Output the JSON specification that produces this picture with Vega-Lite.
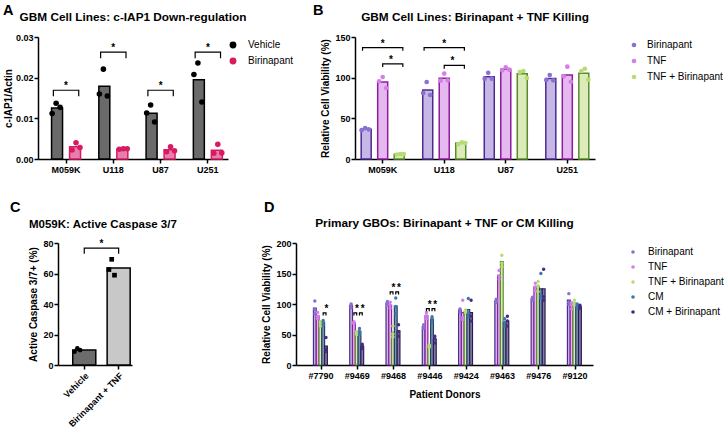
{
"$schema": "https://vega.github.io/schema/vega-lite/v6.json",
"padding": {"left": 3, "top": 2, "right": 0, "bottom": 0},
"background": "white",
"config": {
  "font": "Liberation Sans",
  "view": {"stroke": null},
  "axis": {"domainColor": "#000", "domainWidth": 1.5, "tickColor": "#000", "tickWidth": 1.5, "tickSize": 4, "labelColor": "#000", "labelFontWeight": "bold", "labelFontSize": 9, "labelPadding": 2, "titleFontWeight": "bold", "titleFontSize": 10, "titleColor": "#000", "titlePadding": 4, "grid": false, "labelOverlap": false},
  "title": {"fontWeight": "bold", "fontSize": 11.8, "color": "#000", "offset": 9},
  "legend": {"labelFontSize": 10, "labelColor": "#000", "symbolStrokeWidth": 0, "symbolType": "circle"}
},
"datasets": {
  "a": [
    {"line": "M059K", "cond": "Vehicle", "pk": "Vehicle-1", "v": 0.0112},
    {"line": "M059K", "cond": "Vehicle", "pk": "Vehicle-2", "v": 0.0137},
    {"line": "M059K", "cond": "Vehicle", "pk": "Vehicle-3", "v": 0.0127},
    {"line": "M059K", "cond": "Birinapant", "pk": "Birinapant-1", "v": 0.0022},
    {"line": "M059K", "cond": "Birinapant", "pk": "Birinapant-2", "v": 0.0040},
    {"line": "M059K", "cond": "Birinapant", "pk": "Birinapant-3", "v": 0.0028},
    {"line": "U118", "cond": "Vehicle", "pk": "Vehicle-1", "v": 0.0160},
    {"line": "U118", "cond": "Vehicle", "pk": "Vehicle-2", "v": 0.0221},
    {"line": "U118", "cond": "Vehicle", "pk": "Vehicle-3", "v": 0.0155},
    {"line": "U118", "cond": "Birinapant", "pk": "Birinapant-1", "v": 0.0024},
    {"line": "U118", "cond": "Birinapant", "pk": "Birinapant-2", "v": 0.0025},
    {"line": "U118", "cond": "Birinapant", "pk": "Birinapant-3", "v": 0.0025},
    {"line": "U87", "cond": "Vehicle", "pk": "Vehicle-1", "v": 0.0113},
    {"line": "U87", "cond": "Vehicle", "pk": "Vehicle-2", "v": 0.0133},
    {"line": "U87", "cond": "Vehicle", "pk": "Vehicle-3", "v": 0.0091},
    {"line": "U87", "cond": "Birinapant", "pk": "Birinapant-1", "v": 0.0018},
    {"line": "U87", "cond": "Birinapant", "pk": "Birinapant-2", "v": 0.0030},
    {"line": "U87", "cond": "Birinapant", "pk": "Birinapant-3", "v": 0.0020},
    {"line": "U251", "cond": "Vehicle", "pk": "Vehicle-1", "v": 0.0208},
    {"line": "U251", "cond": "Vehicle", "pk": "Vehicle-2", "v": 0.0236},
    {"line": "U251", "cond": "Vehicle", "pk": "Vehicle-3", "v": 0.0140},
    {"line": "U251", "cond": "Birinapant", "pk": "Birinapant-1", "v": 0.0014},
    {"line": "U251", "cond": "Birinapant", "pk": "Birinapant-2", "v": 0.0036},
    {"line": "U251", "cond": "Birinapant", "pk": "Birinapant-3", "v": 0.0015}
  ],
  "asig": [
    {"line": "M059K", "cond": "Vehicle", "y": 0.0154, "o": 1},
    {"line": "M059K", "cond": "Vehicle", "y": 0.0169, "o": 2},
    {"line": "M059K", "cond": "Birinapant", "y": 0.0169, "o": 3},
    {"line": "M059K", "cond": "Birinapant", "y": 0.0154, "o": 4},
    {"line": "U118", "cond": "Vehicle", "y": 0.0248, "o": 1},
    {"line": "U118", "cond": "Vehicle", "y": 0.0263, "o": 2},
    {"line": "U118", "cond": "Birinapant", "y": 0.0263, "o": 3},
    {"line": "U118", "cond": "Birinapant", "y": 0.0248, "o": 4},
    {"line": "U87", "cond": "Vehicle", "y": 0.0154, "o": 1},
    {"line": "U87", "cond": "Vehicle", "y": 0.0169, "o": 2},
    {"line": "U87", "cond": "Birinapant", "y": 0.0169, "o": 3},
    {"line": "U87", "cond": "Birinapant", "y": 0.0154, "o": 4},
    {"line": "U251", "cond": "Vehicle", "y": 0.0248, "o": 1},
    {"line": "U251", "cond": "Vehicle", "y": 0.0263, "o": 2},
    {"line": "U251", "cond": "Birinapant", "y": 0.0263, "o": 3},
    {"line": "U251", "cond": "Birinapant", "y": 0.0248, "o": 4}
  ],
  "astar": [
    {"line": "M059K", "y": 0.0169},
    {"line": "U118", "y": 0.0263},
    {"line": "U87", "y": 0.0169},
    {"line": "U251", "y": 0.0263}
  ],
  "b": [
    {"line": "M059K", "cond": "Birinapant", "pk": "Birinapant-1", "v": 35.5},
    {"line": "M059K", "cond": "Birinapant", "pk": "Birinapant-2", "v": 38},
    {"line": "M059K", "cond": "Birinapant", "pk": "Birinapant-3", "v": 36.5},
    {"line": "M059K", "cond": "TNF", "pk": "TNF-1", "v": 95.5},
    {"line": "M059K", "cond": "TNF", "pk": "TNF-2", "v": 100.8},
    {"line": "M059K", "cond": "TNF", "pk": "TNF-3", "v": 87.3},
    {"line": "M059K", "cond": "TNF + Birinapant", "pk": "TNF + Birinapant-1", "v": 5.5},
    {"line": "M059K", "cond": "TNF + Birinapant", "pk": "TNF + Birinapant-2", "v": 6},
    {"line": "M059K", "cond": "TNF + Birinapant", "pk": "TNF + Birinapant-3", "v": 6},
    {"line": "U118", "cond": "Birinapant", "pk": "Birinapant-1", "v": 81},
    {"line": "U118", "cond": "Birinapant", "pk": "Birinapant-2", "v": 94.7},
    {"line": "U118", "cond": "Birinapant", "pk": "Birinapant-3", "v": 78.7},
    {"line": "U118", "cond": "TNF", "pk": "TNF-1", "v": 96.3},
    {"line": "U118", "cond": "TNF", "pk": "TNF-2", "v": 105},
    {"line": "U118", "cond": "TNF", "pk": "TNF-3", "v": 96.7},
    {"line": "U118", "cond": "TNF + Birinapant", "pk": "TNF + Birinapant-1", "v": 18.4},
    {"line": "U118", "cond": "TNF + Birinapant", "pk": "TNF + Birinapant-2", "v": 20.5},
    {"line": "U118", "cond": "TNF + Birinapant", "pk": "TNF + Birinapant-3", "v": 19.7},
    {"line": "U87", "cond": "Birinapant", "pk": "Birinapant-1", "v": 98.8},
    {"line": "U87", "cond": "Birinapant", "pk": "Birinapant-2", "v": 106},
    {"line": "U87", "cond": "Birinapant", "pk": "Birinapant-3", "v": 98.8},
    {"line": "U87", "cond": "TNF", "pk": "TNF-1", "v": 109},
    {"line": "U87", "cond": "TNF", "pk": "TNF-2", "v": 112.7},
    {"line": "U87", "cond": "TNF", "pk": "TNF-3", "v": 109.8},
    {"line": "U87", "cond": "TNF + Birinapant", "pk": "TNF + Birinapant-1", "v": 107},
    {"line": "U87", "cond": "TNF + Birinapant", "pk": "TNF + Birinapant-2", "v": 108.2},
    {"line": "U87", "cond": "TNF + Birinapant", "pk": "TNF + Birinapant-3", "v": 99.6},
    {"line": "U251", "cond": "Birinapant", "pk": "Birinapant-1", "v": 97.1},
    {"line": "U251", "cond": "Birinapant", "pk": "Birinapant-2", "v": 103.3},
    {"line": "U251", "cond": "Birinapant", "pk": "Birinapant-3", "v": 96.7},
    {"line": "U251", "cond": "TNF", "pk": "TNF-1", "v": 101.6},
    {"line": "U251", "cond": "TNF", "pk": "TNF-2", "v": 113.5},
    {"line": "U251", "cond": "TNF", "pk": "TNF-3", "v": 95},
    {"line": "U251", "cond": "TNF + Birinapant", "pk": "TNF + Birinapant-1", "v": 108.2},
    {"line": "U251", "cond": "TNF + Birinapant", "pk": "TNF + Birinapant-2", "v": 111},
    {"line": "U251", "cond": "TNF + Birinapant", "pk": "TNF + Birinapant-3", "v": 97.5}
  ],
  "bsig": [
    {"line": "M059K", "bid": "M059K-long", "cond": "Birinapant", "y": 133, "o": 1},
    {"line": "M059K", "bid": "M059K-long", "cond": "Birinapant", "y": 137, "o": 2},
    {"line": "M059K", "bid": "M059K-long", "cond": "TNF + Birinapant", "y": 137, "o": 3},
    {"line": "M059K", "bid": "M059K-long", "cond": "TNF + Birinapant", "y": 133, "o": 4},
    {"line": "M059K", "bid": "M059K-short", "cond": "TNF", "y": 113, "o": 1},
    {"line": "M059K", "bid": "M059K-short", "cond": "TNF", "y": 117, "o": 2},
    {"line": "M059K", "bid": "M059K-short", "cond": "TNF + Birinapant", "y": 117, "o": 3},
    {"line": "M059K", "bid": "M059K-short", "cond": "TNF + Birinapant", "y": 113, "o": 4},
    {"line": "U118", "bid": "U118-long", "cond": "Birinapant", "y": 133, "o": 1},
    {"line": "U118", "bid": "U118-long", "cond": "Birinapant", "y": 137, "o": 2},
    {"line": "U118", "bid": "U118-long", "cond": "TNF + Birinapant", "y": 137, "o": 3},
    {"line": "U118", "bid": "U118-long", "cond": "TNF + Birinapant", "y": 133, "o": 4},
    {"line": "U118", "bid": "U118-short", "cond": "TNF", "y": 111, "o": 1},
    {"line": "U118", "bid": "U118-short", "cond": "TNF", "y": 115, "o": 2},
    {"line": "U118", "bid": "U118-short", "cond": "TNF + Birinapant", "y": 115, "o": 3},
    {"line": "U118", "bid": "U118-short", "cond": "TNF + Birinapant", "y": 111, "o": 4}
  ],
  "bstar": [
    {"line": "M059K", "kind": "long", "cond": "TNF", "y": 137},
    {"line": "M059K", "kind": "short", "cond": "TNF", "y": 117},
    {"line": "U118", "kind": "long", "cond": "TNF", "y": 137},
    {"line": "U118", "kind": "short", "cond": "TNF", "y": 115}
  ],
  "c": [
    {"cond": "Vehicle", "rep": "1", "v": 8.7},
    {"cond": "Vehicle", "rep": "2", "v": 10.9},
    {"cond": "Vehicle", "rep": "3", "v": 9.8},
    {"cond": "Birinapant + TNF", "rep": "1", "v": 62.6},
    {"cond": "Birinapant + TNF", "rep": "2", "v": 69.3},
    {"cond": "Birinapant + TNF", "rep": "3", "v": 58.9}
  ],
  "csig": [
    {"cond": "Vehicle", "y": 73, "o": 1},
    {"cond": "Vehicle", "y": 76.7, "o": 2},
    {"cond": "Birinapant + TNF", "y": 76.7, "o": 3},
    {"cond": "Birinapant + TNF", "y": 73, "o": 4}
  ],
  "cstar": [
    {"cond": "Vehicle", "y": 76.7}
  ],
  "d": [
    {"donor": "#7790", "cond": "Birinapant", "v": 105}, {"donor": "#7790", "cond": "Birinapant", "v": 91}, {"donor": "#7790", "cond": "Birinapant", "v": 84},
    {"donor": "#7790", "cond": "TNF", "v": 86}, {"donor": "#7790", "cond": "TNF", "v": 80}, {"donor": "#7790", "cond": "TNF", "v": 76},
    {"donor": "#7790", "cond": "TNF + Birinapant", "v": 71}, {"donor": "#7790", "cond": "TNF + Birinapant", "v": 68}, {"donor": "#7790", "cond": "TNF + Birinapant", "v": 64},
    {"donor": "#7790", "cond": "CM", "v": 73}, {"donor": "#7790", "cond": "CM", "v": 70}, {"donor": "#7790", "cond": "CM", "v": 66},
    {"donor": "#7790", "cond": "CM + Birinapant", "v": 45}, {"donor": "#7790", "cond": "CM + Birinapant", "v": 26}, {"donor": "#7790", "cond": "CM + Birinapant", "v": 22},
    {"donor": "#9469", "cond": "Birinapant", "v": 100}, {"donor": "#9469", "cond": "Birinapant", "v": 98}, {"donor": "#9469", "cond": "Birinapant", "v": 94},
    {"donor": "#9469", "cond": "TNF", "v": 71}, {"donor": "#9469", "cond": "TNF", "v": 69}, {"donor": "#9469", "cond": "TNF", "v": 68},
    {"donor": "#9469", "cond": "TNF + Birinapant", "v": 55}, {"donor": "#9469", "cond": "TNF + Birinapant", "v": 53}, {"donor": "#9469", "cond": "TNF + Birinapant", "v": 50},
    {"donor": "#9469", "cond": "CM", "v": 60}, {"donor": "#9469", "cond": "CM", "v": 55}, {"donor": "#9469", "cond": "CM", "v": 51},
    {"donor": "#9469", "cond": "CM + Birinapant", "v": 34}, {"donor": "#9469", "cond": "CM + Birinapant", "v": 31}, {"donor": "#9469", "cond": "CM + Birinapant", "v": 27},
    {"donor": "#9468", "cond": "Birinapant", "v": 104}, {"donor": "#9468", "cond": "Birinapant", "v": 102}, {"donor": "#9468", "cond": "Birinapant", "v": 99},
    {"donor": "#9468", "cond": "TNF", "v": 103}, {"donor": "#9468", "cond": "TNF", "v": 98}, {"donor": "#9468", "cond": "TNF", "v": 93},
    {"donor": "#9468", "cond": "TNF + Birinapant", "v": 64}, {"donor": "#9468", "cond": "TNF + Birinapant", "v": 51}, {"donor": "#9468", "cond": "TNF + Birinapant", "v": 46},
    {"donor": "#9468", "cond": "CM", "v": 110}, {"donor": "#9468", "cond": "CM", "v": 96}, {"donor": "#9468", "cond": "CM", "v": 84},
    {"donor": "#9468", "cond": "CM + Birinapant", "v": 66}, {"donor": "#9468", "cond": "CM + Birinapant", "v": 55}, {"donor": "#9468", "cond": "CM + Birinapant", "v": 47},
    {"donor": "#9446", "cond": "Birinapant", "v": 66}, {"donor": "#9446", "cond": "Birinapant", "v": 63}, {"donor": "#9446", "cond": "Birinapant", "v": 60},
    {"donor": "#9446", "cond": "TNF", "v": 86}, {"donor": "#9446", "cond": "TNF", "v": 81}, {"donor": "#9446", "cond": "TNF", "v": 76},
    {"donor": "#9446", "cond": "TNF + Birinapant", "v": 33}, {"donor": "#9446", "cond": "TNF + Birinapant", "v": 31}, {"donor": "#9446", "cond": "TNF + Birinapant", "v": 29},
    {"donor": "#9446", "cond": "CM", "v": 79}, {"donor": "#9446", "cond": "CM", "v": 76}, {"donor": "#9446", "cond": "CM", "v": 70},
    {"donor": "#9446", "cond": "CM + Birinapant", "v": 47}, {"donor": "#9446", "cond": "CM + Birinapant", "v": 43}, {"donor": "#9446", "cond": "CM + Birinapant", "v": 36},
    {"donor": "#9424", "cond": "Birinapant", "v": 92}, {"donor": "#9424", "cond": "Birinapant", "v": 90}, {"donor": "#9424", "cond": "Birinapant", "v": 87},
    {"donor": "#9424", "cond": "TNF", "v": 106}, {"donor": "#9424", "cond": "TNF", "v": 78}, {"donor": "#9424", "cond": "TNF", "v": 74},
    {"donor": "#9424", "cond": "TNF + Birinapant", "v": 90}, {"donor": "#9424", "cond": "TNF + Birinapant", "v": 88}, {"donor": "#9424", "cond": "TNF + Birinapant", "v": 86},
    {"donor": "#9424", "cond": "CM", "v": 109}, {"donor": "#9424", "cond": "CM", "v": 85}, {"donor": "#9424", "cond": "CM", "v": 79},
    {"donor": "#9424", "cond": "CM + Birinapant", "v": 106}, {"donor": "#9424", "cond": "CM + Birinapant", "v": 80}, {"donor": "#9424", "cond": "CM + Birinapant", "v": 72},
    {"donor": "#9463", "cond": "Birinapant", "v": 108}, {"donor": "#9463", "cond": "Birinapant", "v": 105}, {"donor": "#9463", "cond": "Birinapant", "v": 103},
    {"donor": "#9463", "cond": "TNF", "v": 155}, {"donor": "#9463", "cond": "TNF", "v": 146}, {"donor": "#9463", "cond": "TNF", "v": 140},
    {"donor": "#9463", "cond": "TNF + Birinapant", "v": 180}, {"donor": "#9463", "cond": "TNF + Birinapant", "v": 167}, {"donor": "#9463", "cond": "TNF + Birinapant", "v": 161},
    {"donor": "#9463", "cond": "CM", "v": 76}, {"donor": "#9463", "cond": "CM", "v": 70}, {"donor": "#9463", "cond": "CM", "v": 64},
    {"donor": "#9463", "cond": "CM + Birinapant", "v": 80}, {"donor": "#9463", "cond": "CM + Birinapant", "v": 72}, {"donor": "#9463", "cond": "CM + Birinapant", "v": 64},
    {"donor": "#9476", "cond": "Birinapant", "v": 111}, {"donor": "#9476", "cond": "Birinapant", "v": 109}, {"donor": "#9476", "cond": "Birinapant", "v": 106},
    {"donor": "#9476", "cond": "TNF", "v": 134}, {"donor": "#9476", "cond": "TNF", "v": 128}, {"donor": "#9476", "cond": "TNF", "v": 122},
    {"donor": "#9476", "cond": "TNF + Birinapant", "v": 137}, {"donor": "#9476", "cond": "TNF + Birinapant", "v": 130}, {"donor": "#9476", "cond": "TNF + Birinapant", "v": 120},
    {"donor": "#9476", "cond": "CM", "v": 150}, {"donor": "#9476", "cond": "CM", "v": 114}, {"donor": "#9476", "cond": "CM", "v": 110},
    {"donor": "#9476", "cond": "CM + Birinapant", "v": 157}, {"donor": "#9476", "cond": "CM + Birinapant", "v": 112}, {"donor": "#9476", "cond": "CM + Birinapant", "v": 106},
    {"donor": "#9120", "cond": "Birinapant", "v": 117}, {"donor": "#9120", "cond": "Birinapant", "v": 103}, {"donor": "#9120", "cond": "Birinapant", "v": 99},
    {"donor": "#9120", "cond": "TNF", "v": 102}, {"donor": "#9120", "cond": "TNF", "v": 98}, {"donor": "#9120", "cond": "TNF", "v": 92},
    {"donor": "#9120", "cond": "TNF + Birinapant", "v": 106}, {"donor": "#9120", "cond": "TNF + Birinapant", "v": 100}, {"donor": "#9120", "cond": "TNF + Birinapant", "v": 98},
    {"donor": "#9120", "cond": "CM", "v": 100}, {"donor": "#9120", "cond": "CM", "v": 97}, {"donor": "#9120", "cond": "CM", "v": 93},
    {"donor": "#9120", "cond": "CM + Birinapant", "v": 98}, {"donor": "#9120", "cond": "CM + Birinapant", "v": 95}, {"donor": "#9120", "cond": "CM + Birinapant", "v": 93}
  ],
  "dsig": [
    {"donor": "#7790", "bid": "7790-CM", "cond": "CM", "y": 81, "o": 1},
    {"donor": "#7790", "bid": "7790-CM", "cond": "CM", "y": 85.5, "o": 2},
    {"donor": "#7790", "bid": "7790-CM", "cond": "CM + Birinapant", "y": 85.5, "o": 3},
    {"donor": "#7790", "bid": "7790-CM", "cond": "CM + Birinapant", "y": 81, "o": 4},
    {"donor": "#9469", "bid": "9469-TNF", "cond": "TNF", "y": 81, "o": 1},
    {"donor": "#9469", "bid": "9469-TNF", "cond": "TNF", "y": 85.5, "o": 2},
    {"donor": "#9469", "bid": "9469-TNF", "cond": "TNF + Birinapant", "y": 85.5, "o": 3},
    {"donor": "#9469", "bid": "9469-TNF", "cond": "TNF + Birinapant", "y": 81, "o": 4},
    {"donor": "#9469", "bid": "9469-CM", "cond": "CM", "y": 81, "o": 1},
    {"donor": "#9469", "bid": "9469-CM", "cond": "CM", "y": 85.5, "o": 2},
    {"donor": "#9469", "bid": "9469-CM", "cond": "CM + Birinapant", "y": 85.5, "o": 3},
    {"donor": "#9469", "bid": "9469-CM", "cond": "CM + Birinapant", "y": 81, "o": 4},
    {"donor": "#9468", "bid": "9468-TNF", "cond": "TNF", "y": 115.5, "o": 1},
    {"donor": "#9468", "bid": "9468-TNF", "cond": "TNF", "y": 120, "o": 2},
    {"donor": "#9468", "bid": "9468-TNF", "cond": "TNF + Birinapant", "y": 120, "o": 3},
    {"donor": "#9468", "bid": "9468-TNF", "cond": "TNF + Birinapant", "y": 115.5, "o": 4},
    {"donor": "#9468", "bid": "9468-CM", "cond": "CM", "y": 115.5, "o": 1},
    {"donor": "#9468", "bid": "9468-CM", "cond": "CM", "y": 120, "o": 2},
    {"donor": "#9468", "bid": "9468-CM", "cond": "CM + Birinapant", "y": 120, "o": 3},
    {"donor": "#9468", "bid": "9468-CM", "cond": "CM + Birinapant", "y": 115.5, "o": 4},
    {"donor": "#9446", "bid": "9446-TNF", "cond": "TNF", "y": 88, "o": 1},
    {"donor": "#9446", "bid": "9446-TNF", "cond": "TNF", "y": 92.5, "o": 2},
    {"donor": "#9446", "bid": "9446-TNF", "cond": "TNF + Birinapant", "y": 92.5, "o": 3},
    {"donor": "#9446", "bid": "9446-TNF", "cond": "TNF + Birinapant", "y": 88, "o": 4},
    {"donor": "#9446", "bid": "9446-CM", "cond": "CM", "y": 88, "o": 1},
    {"donor": "#9446", "bid": "9446-CM", "cond": "CM", "y": 92.5, "o": 2},
    {"donor": "#9446", "bid": "9446-CM", "cond": "CM + Birinapant", "y": 92.5, "o": 3},
    {"donor": "#9446", "bid": "9446-CM", "cond": "CM + Birinapant", "y": 88, "o": 4}
  ],
  "dstar": [
    {"donor": "#7790", "cond": "CM", "y": 85.5},
    {"donor": "#9469", "cond": "TNF", "y": 85.5},
    {"donor": "#9469", "cond": "CM", "y": 85.5},
    {"donor": "#9468", "cond": "TNF", "y": 120},
    {"donor": "#9468", "cond": "CM", "y": 120},
    {"donor": "#9446", "cond": "TNF", "y": 92.5},
    {"donor": "#9446", "cond": "CM", "y": 92.5}
  ]
},
"spacing": 25,
"resolve": {"scale": {"color": "independent", "fill": "independent", "stroke": "independent", "shape": "independent"}, "legend": {"color": "independent"}},
"vconcat": [
 {
  "spacing": 16,
  "resolve": {"scale": {"color": "independent", "fill": "independent", "stroke": "independent", "shape": "independent"}, "legend": {"color": "independent"}},
  "hconcat": [
   {
    "title": {"text": "A", "anchor": "start", "fontSize": 14.5, "offset": -6, "frame": "group", "dx": -35},
    "resolve": {"scale": {"color": "independent", "fill": "independent", "stroke": "independent", "shape": "independent"}, "legend": {"color": "independent"}},
    "vconcat": [
     {
      "width": 190, "height": 122,
      "title": {"text": "GBM Cell Lines: c-IAP1 Down-regulation", "frame": "group"},
      "resolve": {"scale": {"xOffset": "independent"}},
      "encoding": {"x": {"field": "line", "type": "nominal", "scale": {"domain": ["M059K", "U118", "U87", "U251"], "paddingInner": 0.2, "paddingOuter": 0.11, "align": 0.88}, "axis": {"title": null, "labelAngle": 0}}},
      "layer": [
       {
        "data": {"name": "a"},
        "mark": {"type": "bar", "strokeWidth": 1.5},
        "encoding": {
         "xOffset": {"field": "cond", "type": "nominal", "scale": {"domain": ["Vehicle", "Birinapant"], "paddingInner": 0.39, "paddingOuter": 0.245}},
         "y": {"aggregate": "mean", "field": "v", "type": "quantitative", "scale": {"domain": [0, 0.03]}, "axis": {"title": "c-IAP1/Actin", "values": [0, 0.01, 0.02, 0.03], "format": ".2f", "titlePadding": 2, "labelPadding": 1}},
         "fill": {"field": "cond", "type": "nominal", "scale": {"domain": ["Birinapant", "Vehicle"], "range": ["#e77eac", "#6a6a6a"]}, "legend": null},
         "stroke": {"field": "cond", "type": "nominal", "scale": {"domain": ["Birinapant", "Vehicle"], "range": ["#d61c64", "#000000"]}, "legend": null}
        }
       },
       {
        "data": {"name": "a"},
        "mark": {"type": "point", "filled": true, "size": 31, "opacity": 1},
        "encoding": {
         "xOffset": {"field": "pk", "type": "nominal", "scale": {"domain": ["Vehicle-g1", "Vehicle-1", "Vehicle-2", "Vehicle-3", "Vehicle-g2", "Birinapant-g1", "Birinapant-1", "Birinapant-2", "Birinapant-3", "Birinapant-g2"], "paddingInner": 0, "paddingOuter": 0.25}},
         "y": {"field": "v", "type": "quantitative", "scale": {"domain": [0, 0.03]}, "axis": {"title": "c-IAP1/Actin", "values": [0, 0.01, 0.02, 0.03], "format": ".2f", "titlePadding": 2, "labelPadding": 1}},
         "color": {"field": "cond", "type": "nominal", "scale": {"domain": ["Vehicle", "Birinapant"], "range": ["#000000", "#d81b60"]}, "legend": {"title": null, "offset": -3, "symbolSize": 47, "labelOffset": 10, "rowPadding": 6, "padding": 3}}
        }
       },
       {
        "data": {"name": "asig"},
        "mark": {"type": "line", "color": "#000", "strokeWidth": 1.2},
        "encoding": {
         "xOffset": {"field": "cond", "type": "nominal", "scale": {"domain": ["Vehicle", "Birinapant"], "paddingInner": 0.39, "paddingOuter": 0.245}},
         "y": {"field": "y", "type": "quantitative", "scale": {"domain": [0, 0.03]}, "axis": {"title": "c-IAP1/Actin", "values": [0, 0.01, 0.02, 0.03], "format": ".2f", "titlePadding": 2, "labelPadding": 1}},
         "detail": {"field": "line"},
         "order": {"field": "o", "type": "quantitative"}
        }
       },
       {
        "data": {"name": "astar"},
        "mark": {"type": "text", "text": "*", "fontSize": 10, "fontWeight": "bold", "baseline": "alphabetic", "dy": -1, "color": "#000"},
        "encoding": {
         "y": {"field": "y", "type": "quantitative", "scale": {"domain": [0, 0.03]}, "axis": {"title": "c-IAP1/Actin", "values": [0, 0.01, 0.02, 0.03], "format": ".2f", "titlePadding": 2, "labelPadding": 1}}
        }
       }
      ]
     }
    ]
   },
   {
    "title": {"text": "B", "anchor": "start", "fontSize": 14.5, "offset": -6, "frame": "group", "dx": -42},
    "resolve": {"scale": {"color": "independent", "fill": "independent", "stroke": "independent", "shape": "independent"}, "legend": {"color": "independent"}},
    "vconcat": [
     {
      "width": 240, "height": 122,
      "title": {"text": "GBM Cell Lines: Birinapant + TNF Killing", "frame": "group"},
      "resolve": {"scale": {"xOffset": "independent"}},
      "encoding": {"x": {"field": "line", "type": "nominal", "scale": {"domain": ["M059K", "U118", "U87", "U251"], "paddingInner": 0.1, "paddingOuter": 0}, "axis": {"title": null, "labelAngle": 0}}},
      "layer": [
       {
        "data": {"name": "b"},
        "mark": {"type": "bar", "strokeWidth": 1.5},
        "encoding": {
         "xOffset": {"field": "cond", "type": "nominal", "scale": {"domain": ["Birinapant", "TNF", "TNF + Birinapant"], "paddingInner": 0.394, "paddingOuter": 0.375}},
         "y": {"aggregate": "mean", "field": "v", "type": "quantitative", "scale": {"domain": [0, 150]}, "axis": {"title": "Relative Cell Viability (%)", "values": [0, 50, 100, 150], "labelPadding": 1}},
         "fill": {"field": "cond", "type": "nominal", "scale": {"domain": ["TNF + Birinapant", "TNF", "Birinapant"], "range": ["#dbebb9", "#e5b9f0", "#c5b8e6"]}, "legend": null},
         "stroke": {"field": "cond", "type": "nominal", "scale": {"domain": ["TNF + Birinapant", "TNF", "Birinapant"], "range": ["#5b8c2c", "#8e1c9f", "#4e2a8e"]}, "legend": null}
        }
       },
       {
        "data": {"name": "b"},
        "mark": {"type": "point", "filled": true, "size": 22, "opacity": 1},
        "encoding": {
         "xOffset": {"field": "pk", "type": "nominal", "scale": {"domain": ["Birinapant-g1", "Birinapant-1", "Birinapant-2", "Birinapant-3", "Birinapant-g2", "TNF-g1", "TNF-1", "TNF-2", "TNF-3", "TNF-g2", "TNF + Birinapant-g1", "TNF + Birinapant-1", "TNF + Birinapant-2", "TNF + Birinapant-3", "TNF + Birinapant-g2"], "paddingInner": 0, "paddingOuter": 0.886}},
         "y": {"field": "v", "type": "quantitative", "scale": {"domain": [0, 150]}, "axis": {"title": "Relative Cell Viability (%)", "values": [0, 50, 100, 150], "labelPadding": 1}},
         "color": {"field": "cond", "type": "nominal", "scale": {"domain": ["Birinapant", "TNF", "TNF + Birinapant"], "range": ["#8c6fd0", "#d47fe8", "#b6dc73"]}, "legend": {"title": null, "offset": 31, "symbolSize": 22, "labelOffset": 8, "rowPadding": 6, "padding": 3}}
        }
       },
       {
        "data": {"name": "bsig"},
        "mark": {"type": "line", "color": "#000", "strokeWidth": 1.2},
        "encoding": {
         "xOffset": {"field": "cond", "type": "nominal", "scale": {"domain": ["Birinapant", "TNF", "TNF + Birinapant"], "paddingInner": 0.394, "paddingOuter": 0.375}},
         "y": {"field": "y", "type": "quantitative", "scale": {"domain": [0, 150]}, "axis": {"title": "Relative Cell Viability (%)", "values": [0, 50, 100, 150], "labelPadding": 1}},
         "detail": {"field": "bid"},
         "order": {"field": "o", "type": "quantitative"}
        }
       },
       {
        "data": {"name": "bstar"},
        "transform": [{"filter": "datum.kind === 'long'"}],
        "mark": {"type": "text", "text": "*", "fontSize": 10, "fontWeight": "bold", "baseline": "alphabetic", "dy": -1, "color": "#000"},
        "encoding": {
         "xOffset": {"field": "cond", "type": "nominal", "scale": {"domain": ["Birinapant", "TNF", "TNF + Birinapant"], "paddingInner": 0.394, "paddingOuter": 0.375}},
         "y": {"field": "y", "type": "quantitative", "scale": {"domain": [0, 150]}, "axis": {"title": "Relative Cell Viability (%)", "values": [0, 50, 100, 150], "labelPadding": 1}}
        }
       },
       {
        "data": {"name": "bstar"},
        "transform": [{"filter": "datum.kind === 'short'"}],
        "mark": {"type": "text", "text": "*", "fontSize": 10, "fontWeight": "bold", "baseline": "alphabetic", "dy": -1, "dx": 8.2, "color": "#000"},
        "encoding": {
         "xOffset": {"field": "cond", "type": "nominal", "scale": {"domain": ["Birinapant", "TNF", "TNF + Birinapant"], "paddingInner": 0.394, "paddingOuter": 0.375}},
         "y": {"field": "y", "type": "quantitative", "scale": {"domain": [0, 150]}, "axis": {"title": "Relative Cell Viability (%)", "values": [0, 50, 100, 150], "labelPadding": 1}}
        }
       }
      ]
     }
    ]
   }
  ]
 },
 {
  "spacing": 83,
  "resolve": {"scale": {"color": "independent", "fill": "independent", "stroke": "independent", "shape": "independent"}, "legend": {"color": "independent"}},
  "hconcat": [
   {
    "title": {"text": "C", "anchor": "start", "fontSize": 14.5, "offset": 3, "frame": "group", "dx": -28},
    "resolve": {"scale": {"color": "independent", "fill": "independent", "stroke": "independent", "shape": "independent"}, "legend": {"color": "independent"}},
    "vconcat": [
     {
      "width": 94, "height": 122,
      "title": {"text": "M059K: Active Caspase 3/7", "anchor": "start", "frame": "bounds", "fontSize": 11.5},
      "encoding": {"x": {"field": "cond", "type": "nominal", "scale": {"domain": ["Vehicle", "Birinapant + TNF"], "range": [20, 94], "paddingInner": 0.33, "paddingOuter": 0.241, "align": 0.89}, "axis": {"title": null, "labelAngle": -45}}},
      "layer": [
       {
        "data": {"name": "c"},
        "mark": {"type": "bar", "strokeWidth": 1.5, "stroke": "#000"},
        "encoding": {
         "y": {"aggregate": "mean", "field": "v", "type": "quantitative", "scale": {"domain": [0, 80]}, "axis": {"title": "Active Caspase 3/7+ (%)", "values": [0, 20, 40, 60, 80], "labelPadding": 1, "offset": -20}},
         "fill": {"field": "cond", "type": "nominal", "scale": {"domain": ["Vehicle", "Birinapant + TNF"], "range": ["#6c6c6c", "#c8c8c8"]}, "legend": null}
        }
       },
       {
        "data": {"name": "c"},
        "mark": {"type": "point", "filled": true, "size": 22, "opacity": 1, "color": "#000"},
        "encoding": {
         "xOffset": {"field": "rep", "type": "nominal", "scale": {"domain": ["1", "2", "3"], "paddingInner": 0, "paddingOuter": 0.14}},
         "y": {"field": "v", "type": "quantitative", "scale": {"domain": [0, 80]}, "axis": {"title": "Active Caspase 3/7+ (%)", "values": [0, 20, 40, 60, 80], "labelPadding": 1, "offset": -20}},
         "shape": {"field": "cond", "type": "nominal", "scale": {"domain": ["Vehicle", "Birinapant + TNF"], "range": ["circle", "square"]}, "legend": null}
        }
       },
       {
        "data": {"name": "csig"},
        "mark": {"type": "line", "color": "#000", "strokeWidth": 1.2},
        "encoding": {
         "y": {"field": "y", "type": "quantitative", "scale": {"domain": [0, 80]}, "axis": {"title": "Active Caspase 3/7+ (%)", "values": [0, 20, 40, 60, 80], "labelPadding": 1, "offset": -20}},
         "order": {"field": "o", "type": "quantitative"}
        }
       },
       {
        "data": {"name": "cstar"},
        "mark": {"type": "text", "text": "*", "fontSize": 10, "fontWeight": "bold", "baseline": "alphabetic", "dy": -1, "dx": 17.2, "color": "#000"},
        "encoding": {
         "y": {"field": "y", "type": "quantitative", "scale": {"domain": [0, 80]}, "axis": {"title": "Active Caspase 3/7+ (%)", "values": [0, 20, 40, 60, 80], "labelPadding": 1, "offset": -20}}
        }
       }
      ]
     }
    ]
   },
   {
    "title": {"text": "D", "anchor": "start", "fontSize": 14.5, "offset": 3, "frame": "group", "dx": -32},
    "resolve": {"scale": {"color": "independent", "fill": "independent", "stroke": "independent", "shape": "independent"}, "legend": {"color": "independent"}},
    "vconcat": [
     {
      "width": 297, "height": 122,
      "title": {"text": "Primary GBOs: Birinapant + TNF or CM Killing", "frame": "group"},
      "encoding": {
       "x": {"field": "donor", "type": "nominal", "scale": {"domain": ["#7790", "#9469", "#9468", "#9446", "#9424", "#9463", "#9476", "#9120"], "paddingInner": 0.1, "paddingOuter": 0.143, "align": 0.84}, "axis": {"title": "Patient Donors", "labelAngle": 0, "titlePadding": 9}},
       "xOffset": {"field": "cond", "type": "nominal", "scale": {"domain": ["Birinapant", "TNF", "TNF + Birinapant", "CM", "CM + Birinapant"], "paddingInner": 0.32, "paddingOuter": 0.25}}
      },
      "layer": [
       {
        "data": {"name": "d"},
        "mark": {"type": "bar", "strokeWidth": 1.2},
        "encoding": {
         "y": {"aggregate": "mean", "field": "v", "type": "quantitative", "scale": {"domain": [0, 200]}, "axis": {"title": "Relative Cell Viability (%)", "values": [0, 50, 100, 150, 200], "labelPadding": 1}},
         "fill": {"field": "cond", "type": "nominal", "scale": {"domain": ["CM + Birinapant", "CM", "TNF + Birinapant", "TNF", "Birinapant"], "range": ["#877ca0", "#7d94ad", "#dbebb9", "#e5b9f0", "#c5b8e6"]}, "legend": null},
         "stroke": {"field": "cond", "type": "nominal", "scale": {"domain": ["CM + Birinapant", "CM", "TNF + Birinapant", "TNF", "Birinapant"], "range": ["#2a1b57", "#1f4166", "#5b8c2c", "#8e1c9f", "#4e2a8e"]}, "legend": null}
        }
       },
       {
        "data": {"name": "d"},
        "mark": {"type": "point", "filled": true, "size": 12, "opacity": 1},
        "encoding": {
         "y": {"field": "v", "type": "quantitative", "scale": {"domain": [0, 200]}, "axis": {"title": "Relative Cell Viability (%)", "values": [0, 50, 100, 150, 200], "labelPadding": 1}},
         "color": {"field": "cond", "type": "nominal", "scale": {"domain": ["Birinapant", "TNF", "TNF + Birinapant", "CM", "CM + Birinapant"], "range": ["#8c6fd0", "#d47fe8", "#b6dc73", "#3e77a8", "#472a84"]}, "legend": {"title": null, "offset": 31, "symbolSize": 13, "labelOffset": 10, "rowPadding": 5, "padding": 4}}
        }
       },
       {
        "data": {"name": "dsig"},
        "mark": {"type": "line", "color": "#000", "strokeWidth": 1.2},
        "encoding": {
         "y": {"field": "y", "type": "quantitative", "scale": {"domain": [0, 200]}, "axis": {"title": "Relative Cell Viability (%)", "values": [0, 50, 100, 150, 200], "labelPadding": 1}},
         "detail": {"field": "bid"},
         "order": {"field": "o", "type": "quantitative"}
        }
       },
       {
        "data": {"name": "dstar"},
        "mark": {"type": "text", "text": "*", "fontSize": 10, "fontWeight": "bold", "baseline": "alphabetic", "dy": -1, "dx": 3.15, "color": "#000"},
        "encoding": {
         "y": {"field": "y", "type": "quantitative", "scale": {"domain": [0, 200]}, "axis": {"title": "Relative Cell Viability (%)", "values": [0, 50, 100, 150, 200], "labelPadding": 1}}
        }
       }
      ]
     }
    ]
   }
  ]
 }
]
}
